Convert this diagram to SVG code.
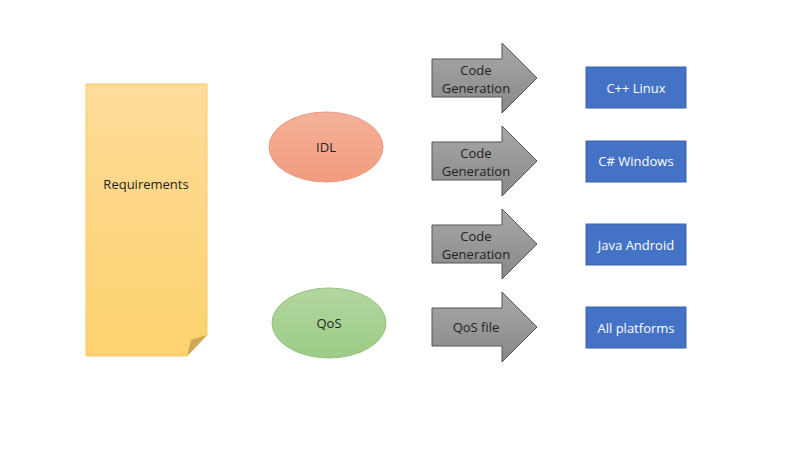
<svg xmlns="http://www.w3.org/2000/svg" width="800" height="450" viewBox="0 0 800 450">
<defs>
<linearGradient id="gy" x1="0" y1="0" x2="0" y2="1"><stop offset="0" stop-color="#fedc9a"/><stop offset="1" stop-color="#fdd26e"/></linearGradient>
<linearGradient id="gr" x1="0" y1="0" x2="0" y2="1"><stop offset="0" stop-color="#f4b09a"/><stop offset="1" stop-color="#f29c7d"/></linearGradient>
<linearGradient id="gg" x1="0" y1="0" x2="0" y2="1"><stop offset="0" stop-color="#b2d6a0"/><stop offset="1" stop-color="#9ccc86"/></linearGradient>
<linearGradient id="ga" x1="0" y1="0" x2="0" y2="1"><stop offset="0" stop-color="#a8a8a8"/><stop offset="1" stop-color="#888"/></linearGradient>
<path id="arr" d="M432,-19 H502 V-35 L537,0 L502,35 V19 H432 Z"/>
</defs>
<style>
text{font-family:"Open Sans","Liberation Sans",sans-serif;font-size:13px;text-anchor:middle;dominant-baseline:central}
.d{fill:#222}
.w{fill:#fff}
.a{fill:url(#ga);stroke:#555;stroke-width:1}
.b{fill:#4472c4;stroke:#3a62a8;stroke-width:1}
</style>
<rect width="800" height="450" fill="#fff"/>
<g id="requirements">
<path d="M86,84 H207 V335 L187,356 H86 Z" fill="url(#gy)" stroke="#f5c86a" stroke-width="1"/>
<path d="M207,335 L187,356 L191,340 Z" fill="#cda75a"/>
<text class="d" x="146" y="184">Requirements</text>
</g>
<g id="idl"><ellipse cx="326" cy="147" rx="57" ry="35" fill="url(#gr)" stroke="#eb9a80"/><text class="d" x="326" y="147">IDL</text></g>
<g id="qos"><ellipse cx="329" cy="323" rx="57" ry="35" fill="url(#gg)" stroke="#93c27f"/><text class="d" x="329" y="323">QoS</text></g>
<g id="connectors">
<g id="arrow1"><use href="#arr" class="a" y="78"/><text class="d" x="476" y="70">Code</text><text class="d" x="476" y="88">Generation</text></g>
<g id="arrow2"><use href="#arr" class="a" y="161"/><text class="d" x="476" y="153">Code</text><text class="d" x="476" y="171">Generation</text></g>
<g id="arrow3"><use href="#arr" class="a" y="244"/><text class="d" x="476" y="236">Code</text><text class="d" x="476" y="254">Generation</text></g>
<g id="arrow4"><use href="#arr" class="a" y="327"/><text class="d" x="476" y="327">QoS file</text></g>
</g>
<g id="cpp"><rect class="b" x="586" y="67" width="100" height="41"/><text class="w" x="636" y="88">C++ Linux</text></g>
<g id="cs"><rect class="b" x="586" y="141" width="100" height="41"/><text class="w" x="636" y="161">C# Windows</text></g>
<g id="java"><rect class="b" x="586" y="224" width="100" height="41"/><text class="w" x="636" y="245">Java Android</text></g>
<g id="all"><rect class="b" x="586" y="307" width="100" height="41"/><text class="w" x="636" y="328">All platforms</text></g>
</svg>
